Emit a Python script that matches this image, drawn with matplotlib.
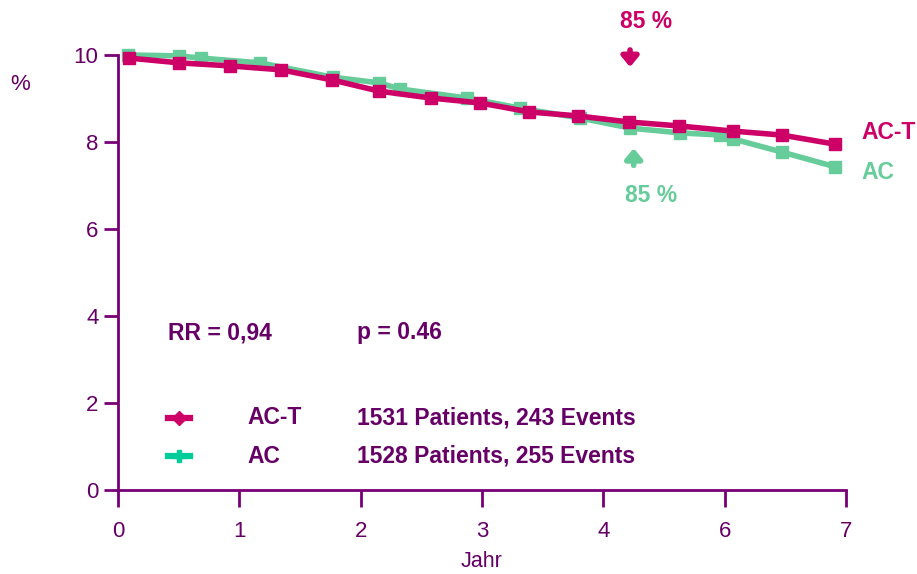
import matplotlib.pyplot as plt

plt.rcParams['font.family'] = ['Liberation Sans', 'DejaVu Sans']

# axis positions 0..6 carry the labels 0,1,2,3,4,6,7 (as in the original)
tick_pos = [0, 1, 2, 3, 4, 5, 6]
tick_labels = ['0', '1', '2', '3', '4', '6', '7']
y_ticks = [0, 2, 4, 6, 8, 10]

act_x = [0.09, 0.50, 0.92, 1.34, 1.76, 2.15, 2.58, 2.98, 3.39, 3.79, 4.21, 4.62, 5.07, 5.47, 5.91]
act_y = [9.93, 9.82, 9.75, 9.66, 9.43, 9.17, 9.01, 8.90, 8.69, 8.60, 8.46, 8.37, 8.25, 8.16, 7.95]

ac_x = [0.08, 0.50, 0.68, 1.17, 1.77, 2.15, 2.32, 2.88, 3.31, 3.81, 4.22, 4.63, 4.96, 5.07, 5.47, 5.91]
ac_y = [10.0, 9.98, 9.93, 9.82, 9.49, 9.36, 9.22, 9.01, 8.78, 8.55, 8.32, 8.21, 8.16, 8.07, 7.77, 7.43]

PURPLE = '#770077'
TEXT = '#660066'
MAGENTA = '#CC0066'
GREEN = '#66CC99'

fig = plt.figure(figsize=(9.17, 5.74), dpi=100)
ax = fig.add_axes([0.1287, 0.1463, 0.7939, 0.7579])

ax.plot(ac_x, ac_y, color=GREEN, lw=4, marker='s', ms=8, clip_on=False, zorder=3)
ax.plot(act_x, act_y, color=MAGENTA, lw=4, marker='s', ms=9, clip_on=False, zorder=4)

ax.set_xlim(0, 6)
ax.set_ylim(0, 10)
ax.set_xticks(tick_pos)
ax.set_xticklabels(tick_labels)
ax.set_yticks(y_ticks)

for s in ['top', 'right']:
    ax.spines[s].set_visible(False)
for s in ['left', 'bottom']:
    ax.spines[s].set_color(PURPLE)
    ax.spines[s].set_linewidth(2)
ax.tick_params(axis='x', direction='out', length=12, width=2, color=PURPLE,
               labelcolor=TEXT, labelsize=16, pad=10)
ax.tick_params(axis='y', direction='out', length=10, width=2, color=PURPLE,
               labelcolor=TEXT, labelsize=16, pad=4)
ax.set_xlabel('Jahr', color=TEXT, fontsize=15.5, labelpad=7)

fig.text(20 / 917, 1 - 85 / 574, '%', color=TEXT, fontsize=16, ha='center', va='center')

bold = dict(fontsize=16.5, fontweight='bold', va='center')
ax.text(4.35, 10.76, '85 %', color=MAGENTA, ha='center', clip_on=False, **bold)
ax.text(4.39, 6.78, '85 %', color=GREEN, ha='center', **bold)
ax.annotate('', xy=(4.22, 9.66), xytext=(4.22, 10.18), annotation_clip=False,
            arrowprops=dict(arrowstyle='-|>,head_width=0.5,head_length=0.6',
                            color=MAGENTA, lw=4))
ax.annotate('', xy=(4.25, 7.92), xytext=(4.25, 7.40), annotation_clip=False,
            arrowprops=dict(arrowstyle='-|>,head_width=0.5,head_length=0.6',
                            color=GREEN, lw=4))
ax.text(6.13, 8.21, 'AC-T', color=MAGENTA, ha='left', clip_on=False, **bold)
ax.text(6.13, 7.31, 'AC', color=GREEN, ha='left', clip_on=False, **bold)

ax.text(0.41, 3.61, 'RR = 0,94', color=TEXT, ha='left', **bold)
ax.text(1.97, 3.61, 'p = 0.46', color=TEXT, ha='left', **bold)

# legend rows
ax.plot([0.41, 0.59], [1.66, 1.66], color=MAGENTA, lw=4.5)
ax.plot([0.50], [1.66], color=MAGENTA, marker='D', ms=7)
ax.plot([0.41, 0.59], [0.78, 0.78], color='#00CC99', lw=4.5)
ax.plot([0.50], [0.78], color='#00CC99', marker='P', ms=9)
ax.text(1.07, 1.66, 'AC-T', color=TEXT, ha='left', **bold)
ax.text(1.97, 1.66, '1531 Patients, 243 Events', color=TEXT, ha='left', **bold)
ax.text(1.07, 0.78, 'AC', color=TEXT, ha='left', **bold)
ax.text(1.97, 0.78, '1528 Patients, 255 Events', color=TEXT, ha='left', **bold)

fig.savefig('out.png', dpi=100)
